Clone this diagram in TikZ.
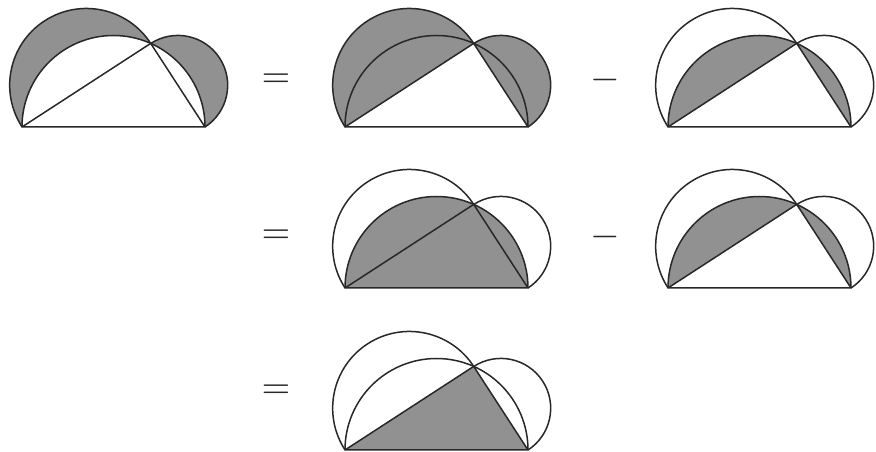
\documentclass[tikz,border=0pt]{standalone}
\definecolor{luneGray}{RGB}{145,145,145}
\definecolor{luneInk}{RGB}{40,40,40}
\usepackage{tikz}
\usetikzlibrary{calc}

\tikzset{
  edge/.style={draw=luneInk,line width=1.5pt,line join=round},
  shade/.style={fill=luneGray},
  sign/.style={inner sep=0pt,text=luneInk}
}

% the three semicircles and the right triangle, in local coordinates
\newcommand{\lunepoints}{%
  \coordinate (A) at (0,0);
  \coordinate (B) at (183,0);
  \coordinate (C) at (128.7,83.6);}
\newcommand{\luneoutline}{%
  \draw[edge] (A) -- (B) -- (C) -- cycle;
  \draw[edge] (C) arc[start angle=33,end angle=213,radius=76.7];
  \draw[edge] (B) arc[start angle=-57,end angle=123,radius=49.8];
  \draw[edge] (B) arc[start angle=0,end angle=180,radius=91.5];}

\begin{document}
\begin{tikzpicture}[x=1pt,y=1pt]
        \useasboundingbox (0,0) rectangle (876,452);
        % row 1: the two lunes
        \begin{scope}[shift={(22,325)}]
          \lunepoints
          \fill[shade] (C) arc[start angle=33,end angle=213,radius=76.7]
            arc[start angle=180,end angle=66,radius=91.5] -- cycle;
          \fill[shade] (B) arc[start angle=-57,end angle=123,radius=49.8]
            arc[start angle=66,end angle=0,radius=91.5] -- cycle;
          \luneoutline
        \end{scope}
        \node[sign,scale=3.7] (eqA) at (276,371) {$=$};
        % row 1: semicircles on the legs
        \begin{scope}[shift={(345,325)}]
          \lunepoints
          \fill[shade] (C) arc[start angle=33,end angle=213,radius=76.7] -- cycle;
          \fill[shade] (B) arc[start angle=-57,end angle=123,radius=49.8] -- cycle;
          \luneoutline
        \end{scope}
        \node[sign,scale=3.8] (minusA) at (605,372) {$-$};
        % row 1: circular segments
        \begin{scope}[shift={(668,325)}]
          \lunepoints
          \fill[shade] (C) arc[start angle=66,end angle=180,radius=91.5] -- cycle;
          \fill[shade] (B) arc[start angle=0,end angle=66,radius=91.5] -- cycle;
          \luneoutline
        \end{scope}
        % row 2: half disk on the hypotenuse
        \node[sign,scale=3.7] (eqB) at (276,215) {$=$};
        \begin{scope}[shift={(345,164)}]
          \lunepoints
          \fill[shade] (B) arc[start angle=0,end angle=180,radius=91.5] -- cycle;
          \luneoutline
        \end{scope}
        \node[sign,scale=3.8] (minusB) at (605,215) {$-$};
        % row 2: circular segments again
        \begin{scope}[shift={(668,164)}]
          \lunepoints
          \fill[shade] (C) arc[start angle=66,end angle=180,radius=91.5] -- cycle;
          \fill[shade] (B) arc[start angle=0,end angle=66,radius=91.5] -- cycle;
          \luneoutline
        \end{scope}
        % row 3: the triangle
        \node[sign,scale=3.7] (eqC) at (276,60) {$=$};
        \begin{scope}[shift={(345,2)}]
          \lunepoints
          \fill[shade] (A) -- (B) -- (C) -- cycle;
          \luneoutline
        \end{scope}
      \end{tikzpicture}
\end{document}
